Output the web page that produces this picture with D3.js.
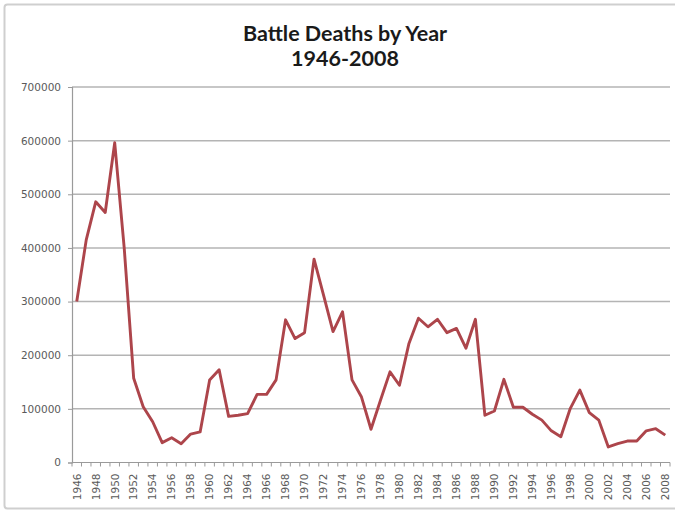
<!DOCTYPE html>
<html>
<head>
<meta charset="utf-8">
<script src="https://cdn.jsdelivr.net/npm/d3@7"></script>
<style>
  html, body { margin: 0; padding: 0; background: #ffffff; }
  svg { display: block; }
</style>
</head>
<body>
<svg id="chart" width="675" height="515"></svg>
<script>
const years = d3.range(1946, 2009);
const deaths = [
  300000, 415000, 486000, 466000, 596000, 400000, 157000, 104000, 76000, 37000,
  46000, 35000, 53000, 57000, 154000, 173000, 86000, 88000, 91000, 127000,
  127000, 154000, 266000, 231000, 242000, 379000, 312000, 244000, 281000, 154000,
  122000, 62000, 116000, 169000, 144000, 222000, 269000, 253000, 267000, 242000,
  250000, 213000, 267000, 88000, 96000, 155000, 103000, 103000, 90000, 79000,
  59000, 48000, 101000, 135000, 93000, 79000, 29000, 35000, 40000, 40000,
  59000, 63000, 51000
];
const yTicks = [0, 100000, 200000, 300000, 400000, 500000, 600000, 700000];
const xLabelYears = years.filter(y => (y - 1946) % 2 === 0);
const titleLines = ["Battle Deaths by Year", "1946-2008"];

const svg = d3.select("#chart");
const W = 675, H = 515;
const plot = { left: 72, right: 670, top: 87, bottom: 462.5 };

// outer frame
svg.append("rect")
  .attr("x", 4.5).attr("y", 4.5)
  .attr("width", W + 10).attr("height", 504)
  .attr("rx", 3)
  .attr("fill", "#ffffff")
  .attr("stroke", "#cfcfcf")
  .attr("stroke-width", 2);

const x = d3.scaleBand().domain(years).range([plot.left, plot.right]).paddingInner(0).paddingOuter(0);
const y = d3.scaleLinear().domain([0, 700000]).range([plot.bottom, plot.top]);
const cx = d => x(d) + x.bandwidth() / 2;

// gridlines
svg.append("g").selectAll("line")
  .data(yTicks.filter(t => t > 0))
  .join("line")
  .attr("x1", plot.left).attr("x2", plot.right)
  .attr("y1", d => y(d)).attr("y2", d => y(d))
  .attr("stroke", "#b4b4b4")
  .attr("stroke-width", 1.5);

// y axis
const yAxis = d3.axisLeft(y).tickValues(yTicks).tickSize(4).tickPadding(7).tickFormat(d3.format("d"));
const gy = svg.append("g").attr("transform", `translate(${plot.left},0)`).call(yAxis);
gy.select(".domain").attr("stroke", "#9a9a9a").attr("stroke-width", 1.2);
gy.selectAll(".tick line").attr("stroke", "#9a9a9a");
gy.selectAll(".tick text")
  .attr("font-family", "DejaVu Sans, sans-serif")
  .attr("font-size", "10.5px")
  .attr("fill", "#5a5a5a");

// x axis line
svg.append("line")
  .attr("x1", plot.left).attr("x2", plot.right)
  .attr("y1", plot.bottom).attr("y2", plot.bottom)
  .attr("stroke", "#9a9a9a").attr("stroke-width", 1.2);

// tick marks at category boundaries
const boundaries = years.map(d => x(d)).concat([x(years[years.length - 1]) + x.bandwidth()]);
svg.append("g").selectAll("line")
  .data(boundaries)
  .join("line")
  .attr("x1", d => d).attr("x2", d => d)
  .attr("y1", plot.bottom).attr("y2", plot.bottom + 4)
  .attr("stroke", "#9a9a9a");

// x labels (rotated)
svg.append("g").selectAll("text")
  .data(xLabelYears)
  .join("text")
  .attr("transform", d => `translate(${cx(d) + 3.8},${plot.bottom + 11}) rotate(-90)`)
  .attr("text-anchor", "end")
  .attr("font-family", "DejaVu Sans, sans-serif")
  .attr("font-size", "10.5px")
  .attr("fill", "#5a5a5a")
  .text(d => d);

// line
const line = d3.line()
  .x((d, i) => cx(years[i]))
  .y(d => y(d));
svg.append("path")
  .datum(deaths)
  .attr("d", line)
  .attr("fill", "none")
  .attr("stroke", "#ad454b")
  .attr("stroke-width", 2.9)
  .attr("stroke-linejoin", "round");

// title
svg.append("g").selectAll("text")
  .data(titleLines)
  .join("text")
  .attr("x", 345)
  .attr("y", (d, i) => 40.5 + i * 25)
  .attr("text-anchor", "middle")
  .attr("font-family", "Lato, 'Open Sans', sans-serif")
  .attr("font-weight", "bold")
  .attr("font-size", "21.5px")
  .attr("fill", "#1a1a1a")
  .text(d => d);
</script>
</body>
</html>
